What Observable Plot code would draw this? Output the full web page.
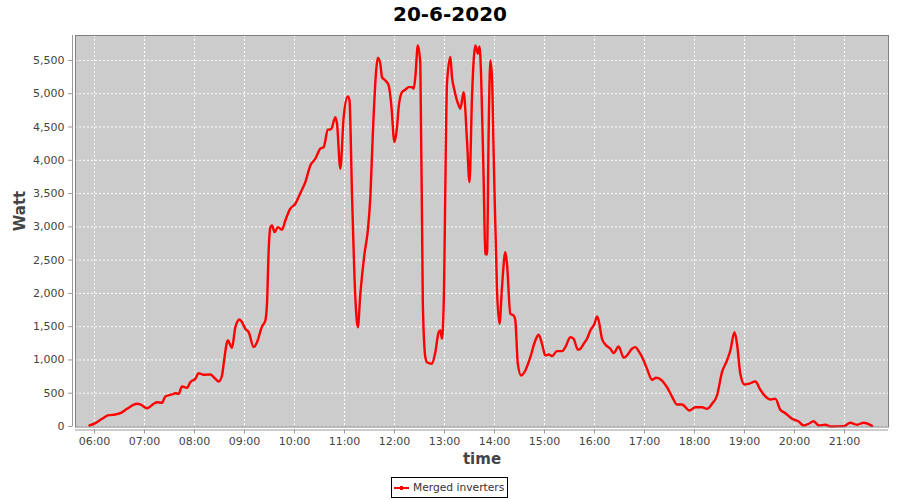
<!DOCTYPE html>
<html>
<head>
<meta charset="utf-8">
<script src="https://cdn.jsdelivr.net/npm/d3@7"></script>
<script src="https://cdn.jsdelivr.net/npm/@observablehq/plot@0.6"></script>
<style>
  html, body { margin: 0; padding: 0; background: #fff; }
  #wrap { width: 900px; height: 500px; position: relative; font-family: "DejaVu Sans", sans-serif; }
  #title { position: absolute; top: 0; left: 0; width: 900px; height: 28px; line-height: 28px; text-align: center; font-weight: bold; font-size: 20px; color: #000; }
  #chart { position: absolute; top: 28px; left: 0; }
  #legend { position: absolute; top: 477px; left: 391px; width: 115px; height: 19px; border: 1px solid #000; font-size: 10.7px; color: #333; display: flex; align-items: center; white-space: nowrap; overflow: hidden; }
  #legend .sw { position: relative; display: inline-block; width: 15px; height: 2px; background: #ff0000; margin: 0 4px 0 2px; }
  #legend .sw::after { content: ""; position: absolute; left: 6px; top: -1px; width: 3px; height: 4px; background: #ff0000; }
</style>
</head>
<body>
<div id="wrap">
  <div id="title">20-6-2020</div>
  <div id="chart"></div>
  <div id="legend"><span class="sw"></span><span id="legendText"></span></div>
</div>
<script>
const seriesName = "Merged inverters";
const times = ["05:54","06:01","06:09","06:17","06:25","06:31","06:39","06:51","06:55","07:03","07:11","07:15","07:21","07:25","07:33","07:37","07:41","07:45","07:51","07:55","08:01","08:05","08:11","08:19","08:25","08:29","08:33","08:35","08:40","08:45","08:49","08:54","08:57","09:01","09:05","09:11","09:15","09:21","09:25","09:27","09:29","09:31","09:33","09:36","09:40","09:45","09:49","09:55","10:01","10:07","10:13","10:19","10:25","10:31","10:35","10:40","10:44","10:49","10:51","10:55","10:59","11:04","11:06","11:09","11:13","11:16","11:19","11:24","11:28","11:31","11:34","11:38","11:40","11:43","11:45","11:49","11:53","11:56","12:00","12:03","12:05","12:09","12:13","12:17","12:21","12:23","12:25","12:28","12:31","12:34","12:37","12:39","12:45","12:49","12:53","12:55","12:57","12:59","13:03","13:07","13:09","13:12","13:17","13:19","13:23","13:27","13:30","13:33","13:35","13:37","13:40","13:42","13:44","13:47","13:49","13:51","13:53","13:55","13:57","13:59","14:03","14:06","14:09","14:13","14:15","14:19","14:23","14:25","14:28","14:32","14:37","14:43","14:49","14:53","14:57","15:01","15:05","15:09","15:15","15:21","15:25","15:31","15:35","15:40","15:43","15:47","15:51","15:55","16:00","16:03","16:05","16:09","16:13","16:19","16:23","16:29","16:31","16:35","16:39","16:45","16:49","16:53","16:59","17:03","17:09","17:14","17:21","17:27","17:33","17:39","17:45","17:54","18:01","18:09","18:15","18:21","18:27","18:33","18:39","18:43","18:48","18:51","18:55","19:00","19:05","19:13","19:19","19:25","19:31","19:37","19:43","19:49","19:57","20:05","20:11","20:17","20:23","20:29","20:37","20:43","20:59","21:07","21:15","21:23","21:33"];
const watts = [15,50,116,170,180,200,266,341,331,275,341,365,356,451,481,500,491,601,582,666,717,801,777,782,717,676,767,942,1293,1183,1492,1608,1568,1468,1417,1192,1267,1503,1593,1844,2645,2995,3021,2920,2995,2956,3096,3272,3347,3506,3672,3923,4023,4174,4198,4459,4468,4649,4550,3873,4649,4960,4900,3497,1943,1492,1994,2596,2946,3446,4399,5351,5542,5451,5250,5200,5125,4850,4273,4498,4799,5024,5061,5100,5100,5076,5250,5726,5451,1844,1042,966,942,1117,1417,1443,1318,1819,5151,5551,5250,5050,4825,4775,5024,4299,3672,4949,5501,5726,5602,5711,5250,3697,2596,2585,4449,5501,5250,4099,2044,1544,2094,2620,2445,1694,1668,1593,942,767,842,1042,1293,1378,1243,1067,1082,1057,1132,1132,1192,1342,1318,1153,1168,1243,1318,1443,1544,1653,1593,1318,1232,1168,1102,1202,1153,1033,1067,1168,1192,1132,992,867,702,732,691,590,450,331,331,240,290,290,266,341,466,816,992,1142,1417,1243,792,631,642,676,552,451,406,416,251,200,116,75,15,41,80,15,26,0,5,56,26,56,10];
const xTickLabels = ["06:00","07:00","08:00","09:00","10:00","11:00","12:00","13:00","14:00","15:00","16:00","17:00","18:00","19:00","20:00","21:00"];
const yTicks = [0,500,1000,1500,2000,2500,3000,3500,4000,4500,5000,5500];

document.getElementById("legendText").textContent = seriesName;

const toMin = s => { const [h, m] = s.split(":").map(Number); return h * 60 + m; };
const n = Math.min(times.length, watts.length);
const data = d3.range(n).map(i => ({t: toMin(times[i]), w: watts[i]}));
const xTicks = xTickLabels.map(toMin);
const fmtTime = m => xTickLabels[xTicks.indexOf(m)];

const chart = Plot.plot({
  width: 900,
  height: 448,
  marginLeft: 75,
  marginRight: 12,
  marginTop: 7,
  marginBottom: 49.5,
  style: {fontFamily: "DejaVu Sans, sans-serif", fontSize: "11px", color: "#444", background: "#fff"},
  x: {domain: [337.2, 1312.8], ticks: xTicks, label: null},
  y: {domain: [-7.5, 5875], ticks: yTicks, label: null},
  marks: [
    Plot.frame({fill: "#cccccc", stroke: null}),
    Plot.gridX(xTicks, {stroke: "#ffffff", strokeOpacity: 1, strokeDasharray: "2,2", strokeWidth: 1}),
    Plot.gridY(yTicks, {stroke: "#ffffff", strokeOpacity: 1, strokeDasharray: "2,2", strokeWidth: 1}),
    Plot.line(data, {x: "t", y: "w", stroke: "#ff0000", strokeWidth: 2.4, curve: "monotone-x"}),
    Plot.frame({stroke: "#808080", strokeWidth: 1}),
    Plot.axisY(yTicks, {anchor: "left", tickSize: 4, dx: -3, tickPadding: 4, tickFormat: d3.format(","), stroke: "#999", fill: "#444", fontSize: 11, label: null}),
    Plot.axisX(xTicks, {anchor: "bottom", tickSize: 4, dy: 3, tickPadding: 3, tickFormat: fmtTime, stroke: "#999", fill: "#444", fontSize: 11, label: null}),
    Plot.ruleX([337.2], {dx: -3, y1: -7.5, y2: 5875, stroke: "#999"}),
    Plot.ruleY([-7.5], {dy: 3, x1: 337.2, x2: 1312.8, stroke: "#999"}),
    Plot.text(["time"], {frameAnchor: "bottom", dy: 37, fontSize: 15, fontWeight: "bold", fill: "#444"}),
    Plot.text(["Watt"], {frameAnchor: "left", dx: -55, dy: 0, rotate: -90, fontSize: 15, fontWeight: "bold", fill: "#444"})
  ]
});
document.getElementById("chart").appendChild(chart);
</script>
</body>
</html>
